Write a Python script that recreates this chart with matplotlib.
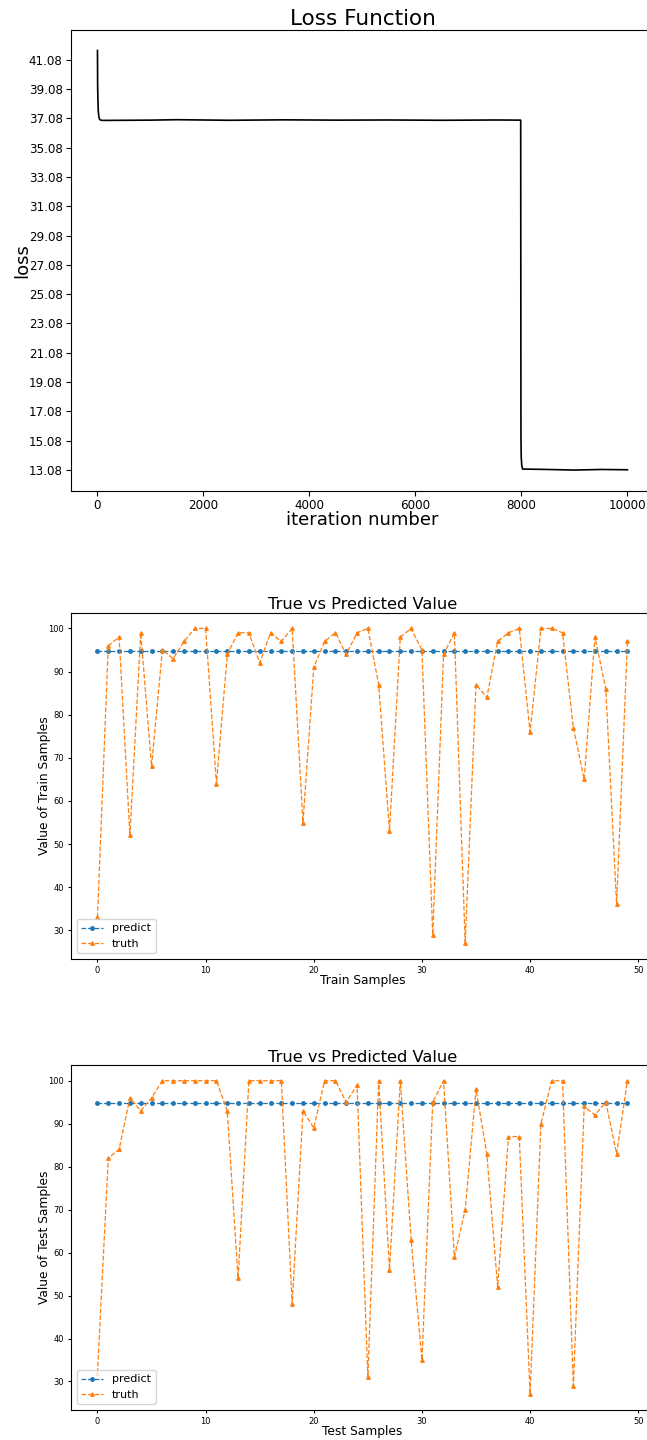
import matplotlib
matplotlib.use("Agg")
import matplotlib.pyplot as plt

# loss curve vertices (iteration, loss)
loss_iter = [0, 3, 8, 15, 25, 40, 60, 100, 1000, 1500, 2500, 3500, 4500, 5500,
             6500, 7500, 7985, 7990, 7995, 8005, 8020, 8500, 9000, 9500, 9999]
loss_vals = [41.7, 39.3, 38.4, 37.6, 37.2, 37.0, 36.95, 36.93, 36.95, 36.98, 36.94,
             36.97, 36.95, 36.96, 36.94, 36.96, 36.95, 15.5, 14.0, 13.4, 13.15,
             13.12, 13.08, 13.12, 13.1]
loss_ticks = [13.08, 15.08, 17.08, 19.08, 21.08, 23.08, 25.08, 27.08,
              29.08, 31.08, 33.08, 35.08, 37.08, 39.08, 41.08]

predict_train = [94.8] * 50
truth_train = [33, 96, 98, 52, 99, 68, 95, 93, 97, 100,
               100, 64, 94, 99, 99, 92, 99, 97, 100, 55,
               91, 97, 99, 94, 99, 100, 87, 53, 98, 100,
               95, 29, 94, 99, 27, 87, 84, 97, 99, 100,
               76, 100, 100, 99, 77, 65, 98, 86, 36, 97]

predict_test = [94.7] * 50
truth_test = [32, 82, 84, 96, 93, 96, 100, 100, 100, 100,
              100, 100, 93, 54, 100, 100, 100, 100, 48, 93,
              89, 100, 100, 95, 99, 31, 100, 56, 100, 63,
              35, 95, 100, 59, 70, 98, 83, 52, 87, 87,
              27, 90, 100, 100, 29, 94, 92, 95, 83, 100]

fig = plt.figure(figsize=(6.47, 14.4), dpi=100)

# loss function
ax1 = fig.add_axes([0.1097, 0.659, 0.901, 0.3205])
ax1.plot(loss_iter, loss_vals, color="black", linewidth=1.2)
ax1.set_yticks(loss_ticks)
ax1.set_yticklabels([f"{t:.2f}" for t in loss_ticks])
ax1.set_title("Loss Function", fontsize=15.5, pad=3)
ax1.set_xlabel("iteration number", fontsize=13, labelpad=-1)
ax1.set_ylabel("loss", fontsize=13, labelpad=-2)
ax1.tick_params(labelsize=8.6, pad=2.5)


def compare(ax, pred, truth, xlabel, ylabel):
    ax.plot(range(len(pred)), pred, "--", marker="o", markersize=2.5,
            linewidth=0.9, color="C0", label="predict")
    ax.plot(range(len(truth)), truth, "--", marker="^", markersize=2.5,
            linewidth=0.9, color="C1", label="truth")
    ax.set_title("True vs Predicted Value", fontsize=11.7, pad=2.5)
    ax.set_xlabel(xlabel, fontsize=8.8, labelpad=-1)
    ax.set_ylabel(ylabel, fontsize=8.8, labelpad=-2)
    ax.tick_params(labelsize=6, length=2.5, pad=2.5)
    ax.legend(loc="lower left", fontsize=8)


ax2 = fig.add_axes([0.1097, 0.334, 0.901, 0.2405])
compare(ax2, predict_train, truth_train, "Train Samples", "Value of Train Samples")

ax3 = fig.add_axes([0.1097, 0.0208, 0.901, 0.2396])
compare(ax3, predict_test, truth_test, "Test Samples", "Value of Test Samples")

fig.savefig("out.png", dpi=100)
